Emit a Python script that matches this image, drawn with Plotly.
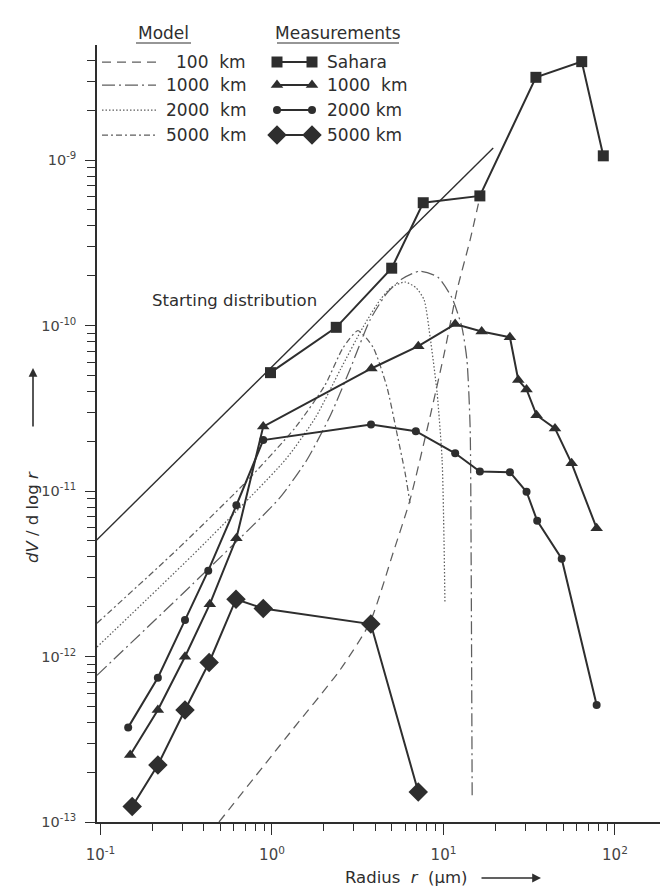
import plotly.graph_objects as go

# ---------------- data ----------------
start_r = [0.095, 19.5]
start_v = [5.06e-12, 1.18e-9]

m100_r = [0.491, 1.27, 2.49, 3.73, 5.08, 6.38, 8.34, 10.2, 12.0, 14.3, 16.3]
m100_v = [1.0e-13, 3.45e-13, 8.28e-13, 1.61e-12, 4.22e-12, 8.83e-12, 2.8e-11, 7.1e-11, 1.64e-10, 3.29e-10, 5.97e-10]

m1000_r = [0.0954, 0.380, 1.10, 1.60, 2.20, 2.85, 3.73, 4.68, 5.72, 7.28, 9.28, 11.2, 12.8, 13.7, 14.3, 14.5, 14.7]
m1000_v = [7.7e-13, 3.02e-12, 9.0e-12, 1.545e-11, 2.89e-11, 5.43e-11, 1.08e-10, 1.57e-10, 1.91e-10, 2.13e-10, 1.96e-10,
           1.47e-10, 9.8e-11, 6.2e-11, 2.44e-11, 3.83e-12, 1.42e-13]

m2000_r = [0.0954, 0.380, 1.20, 1.80, 2.50, 3.40, 4.27, 5.01, 5.97, 6.92, 7.71, 8.36, 9.18, 9.82, 10.07, 10.2]
m2000_v = [1.14e-12, 4.53e-12, 1.55e-11, 2.8e-11, 5.4e-11, 9.8e-11, 1.43e-10, 1.71e-10, 1.83e-10, 1.69e-10, 1.43e-10,
           8.5e-11, 3.91e-11, 1.54e-11, 5.06e-12, 2.1e-12]

m5000_r = [0.0954, 0.278, 0.697, 1.36, 2.04, 2.59, 3.17, 3.88, 4.68, 5.35, 5.97, 6.38]
m5000_v = [1.59e-12, 4.4e-12, 1.12e-11, 2.4e-11, 4.37e-11, 7.3e-11, 9.3e-11, 7.4e-11, 4.25e-11, 2.24e-11,
           1.29e-11, 8.45e-12]

sahara_r = [0.98, 2.37, 4.99, 7.62, 16.3, 34.6, 64.0, 85.5]
sahara_v = [5.19e-11, 9.75e-11, 2.22e-10, 5.52e-10, 6.07e-10, 3.16e-9, 3.93e-9, 1.06e-9]

tri_r = [0.149, 0.216, 0.311, 0.434, 0.62, 0.889, 3.8, 7.13, 11.7, 16.7, 24.4, 27.3, 30.5, 34.9, 44.7, 55.9, 78.2]
tri_v = [2.54e-13, 4.75e-13, 9.97e-13, 2.07e-12, 5.18e-12, 2.45e-11, 5.5e-11, 7.5e-11, 1.02e-10, 9.2e-11,
         8.5e-11, 4.69e-11, 4.11e-11, 2.87e-11, 2.39e-11, 1.47e-11, 5.96e-12]

circ_r = [0.145, 0.216, 0.311, 0.425, 0.62, 0.889, 3.78, 6.9, 11.7, 16.3, 24.4, 30.5, 35.2, 48.9, 78.2]
circ_v = [3.73e-13, 7.45e-13, 1.66e-12, 3.3e-12, 8.2e-12, 2.03e-11, 2.52e-11, 2.3e-11, 1.69e-11, 1.31e-11,
          1.3e-11, 9.9e-12, 6.6e-12, 3.9e-12, 5.1e-13]

dia_r = [0.153, 0.216, 0.311, 0.43, 0.617, 0.889, 3.77, 7.13]
dia_v = [1.24e-13, 2.21e-13, 4.75e-13, 9.2e-13, 2.22e-12, 1.95e-12, 1.57e-12, 1.52e-13]

x_tickvals = [0.1, 1, 10, 100]
x_ticktext = ["10<sup>-1</sup>", "10<sup>0</sup>", "10<sup>1</sup>", "10<sup>2</sup>"]
y_tickvals = [1e-13, 1e-12, 1e-11, 1e-10, 1e-9]
y_ticktext = ["10<sup>-13</sup>", "10<sup>-12</sup>", "10<sup>-11</sup>", "10<sup>-10</sup>", "10<sup>-9</sup>"]

model_labels = ["100\u00a0\u00a0km", "1000\u00a0\u00a0km", "2000\u00a0\u00a0km", "5000\u00a0\u00a0km"]
meas_labels = ["Sahara", "1000\u00a0\u00a0km", "2000\u00a0km", "5000\u00a0km"]

# ---------------- styles ----------------
INK = "#2e2e2e"
MODEL_INK = "#5e5e5e"
FONT = "DejaVu Sans"
dash100 = "9px,6px"
dash1000 = "13px,4px,2px,4px"
dash2000 = "1.5px,2px"
dash5000 = "6px,3px,2px,3px"

W, H = 660, 890
L, R, T, B = 97, 0, 45, 68
PW, PH = W - L - R, H - T - B


def px(xpix):
    return (xpix - L) / PW


def py(ypix):
    return (H - B - ypix) / PH


fig = go.Figure()

# starting distribution
fig.add_trace(go.Scatter(x=start_r, y=start_v, mode="lines",
                         line=dict(color=INK, width=1.4)))

# model curves
for r, v, d in [(m100_r, m100_v, dash100), (m1000_r, m1000_v, dash1000),
                (m2000_r, m2000_v, dash2000), (m5000_r, m5000_v, dash5000)]:
    fig.add_trace(go.Scatter(x=r, y=v, mode="lines",
                             line=dict(color=MODEL_INK, width=1.25, dash=d, shape="spline", smoothing=0.6)))

# measurements
meas = [(sahara_r, sahara_v, "square", 11),
        (tri_r, tri_v, "triangle-up", 11),
        (circ_r, circ_v, "circle", 8),
        (dia_r, dia_v, "diamond", 15)]
for r, v, sym, sz in meas:
    fig.add_trace(go.Scatter(x=r, y=v, mode="lines+markers",
                             line=dict(color=INK, width=2),
                             marker=dict(symbol=sym, size=sz, color=INK, line=dict(width=0))))

# ---------------- legend keys on an overlay axis ----------------
rows = [62, 85, 110, 135]
model_dashes = [dash100, dash1000, dash2000, dash5000]
for yy, d in zip(rows, model_dashes):
    fig.add_trace(go.Scatter(x=[px(102), px(156)], y=[py(yy), py(yy)], mode="lines",
                             xaxis="x2", yaxis="y2",
                             line=dict(color=MODEL_INK, width=1.25, dash=d)))
for yy, (_, _, sym, sz) in zip(rows, meas):
    fig.add_trace(go.Scatter(x=[px(277), px(312)], y=[py(yy), py(yy)], mode="lines+markers",
                             xaxis="x2", yaxis="y2",
                             line=dict(color=INK, width=2),
                             marker=dict(symbol=sym, size=sz, color=INK, line=dict(width=0))))

LEG_SIZE = 17
annotations = []
for yy, t in zip(rows, model_labels):
    annotations.append(dict(x=px(248), y=py(yy), xref="paper", yref="paper", text=t,
                            showarrow=False, xanchor="right", yanchor="middle",
                            font=dict(family=FONT, size=LEG_SIZE, color=INK)))
for yy, t in zip(rows, meas_labels):
    annotations.append(dict(x=px(325), y=py(yy), xref="paper", yref="paper", text=t,
                            showarrow=False, xanchor="left", yanchor="middle",
                            font=dict(family=FONT, size=LEG_SIZE, color=INK)))
annotations += [
    dict(x=px(163), y=py(33), xref="paper", yref="paper", text="Model", showarrow=False,
         xanchor="center", yanchor="middle", font=dict(family=FONT, size=LEG_SIZE, color=INK)),
    dict(x=px(338), y=py(33), xref="paper", yref="paper", text="Measurements", showarrow=False,
         xanchor="center", yanchor="middle", font=dict(family=FONT, size=LEG_SIZE, color=INK)),
    dict(x=px(234), y=py(300), xref="paper", yref="paper", text="Starting distribution", showarrow=False,
         xanchor="center", yanchor="middle", font=dict(family=FONT, size=16.5, color=INK)),
    # x-axis title and its arrow
    dict(x=px(470), y=py(877), xref="paper", yref="paper",
         text="Radius\u00a0\u00a0<i>r</i>\u00a0\u00a0(\u00b5m)", showarrow=False,
         xanchor="right", yanchor="middle", font=dict(family=FONT, size=16.5, color=INK)),
    dict(x=px(541), y=py(878), xref="paper", yref="paper", text="", showarrow=True,
         ax=-61, ay=0, axref="pixel", ayref="pixel",
         arrowhead=2, arrowsize=1.1, arrowwidth=1.6, arrowcolor=INK),
    # y-axis title and its arrow
    dict(x=px(33), y=py(565), xref="paper", yref="paper",
         text="<i>dV</i>\u00a0/\u00a0d\u00a0log\u00a0<i>r</i>", showarrow=False, textangle=-90,
         xanchor="center", yanchor="bottom", font=dict(family=FONT, size=16.5, color=INK)),
    dict(x=px(33), y=py(368), xref="paper", yref="paper", text="", showarrow=True,
         ax=0, ay=60, axref="pixel", ayref="pixel",
         arrowhead=2, arrowsize=1.1, arrowwidth=1.6, arrowcolor=INK),
]

shapes = [
    dict(type="line", xref="paper", yref="paper", x0=px(136), x1=px(191), y0=py(43), y1=py(43),
         line=dict(color=INK, width=1.2)),
    dict(type="line", xref="paper", yref="paper", x0=px(277), x1=px(399), y0=py(43), y1=py(43),
         line=dict(color=INK, width=1.2)),
]

minor_x = [m * 10.0 ** e for e in (-1, 0, 1, 2) for m in range(2, 10)]
minor_y = [m * 10.0 ** e for e in (-13, -12, -11, -10, -9) for m in range(2, 10)]

fig.update_layout(
    width=W, height=H,
    margin=dict(l=L, r=R, t=T, b=B),
    paper_bgcolor="white", plot_bgcolor="white",
    showlegend=False,
    font=dict(family=FONT, color=INK),
    annotations=annotations, shapes=shapes,
    xaxis=dict(type="log", range=[-1.0204, 2.2626], showgrid=False, zeroline=False,
               showline=True, linecolor=INK, linewidth=1.6,
               ticks="outside", ticklen=11, tickwidth=1.3, tickcolor=INK,
               tickvals=x_tickvals, ticktext=x_ticktext, ticklabelstandoff=7,
               tickfont=dict(family=FONT, size=15, color="#444"),
               minor=dict(tickvals=minor_x, ticks="outside", ticklen=7, tickwidth=1.2, tickcolor=INK, showgrid=False)),
    yaxis=dict(type="log", range=[-13, -8.305], showgrid=False, zeroline=False,
               showline=True, linecolor=INK, linewidth=1.6,
               ticks="outside", ticklen=10, tickwidth=1.3, tickcolor=INK,
               tickvals=y_tickvals, ticktext=y_ticktext, ticklabelstandoff=6,
               tickfont=dict(family=FONT, size=14.5, color="#444"),
               minor=dict(tickvals=minor_y, ticks="outside", ticklen=8, tickwidth=1.2, tickcolor=INK, showgrid=False)),
    xaxis2=dict(overlaying="x", range=[0, 1], visible=False, anchor="y2"),
    yaxis2=dict(overlaying="y", range=[0, 1], visible=False, anchor="x2"),
)

fig.write_html("out.html", config={"displayModeBar": False},
               post_script="document.body.style.margin='0px';document.body.style.overflow='hidden';")
